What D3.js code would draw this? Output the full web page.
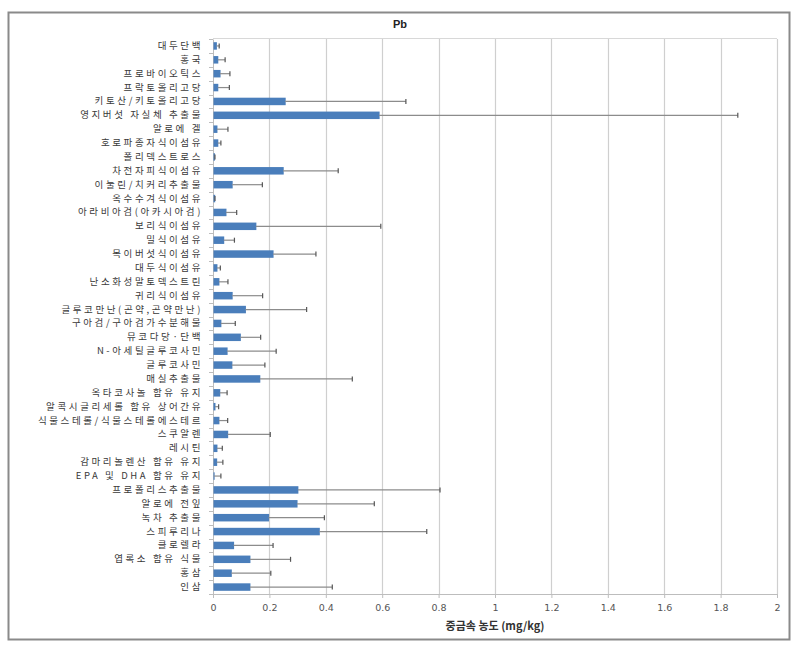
<!DOCTYPE html>
<html><head><meta charset="utf-8">
<script src="https://cdn.jsdelivr.net/npm/d3@7"></script>
<style>body{margin:0;background:#fff;} svg{display:block;}</style>
</head><body>
<svg id="c" width="796" height="650"></svg>
<script>
const categories = ["대두단백","홍국","프로바이오틱스","프락토올리고당","키토산/키토올리고당","영지버섯 자실체 추출물","알로에 겔","호로파종자식이섬유","폴리덱스트로스","차전자피식이섬유","이눌린/치커리추출물","옥수수겨식이섬유","아라비아검(아카시아검)","보리식이섬유","밀식이섬유","목이버섯식이섬유","대두식이섬유","난소화성말토덱스트린","귀리식이섬유","글루코만난(곤약,곤약만난)","구아검/구아검가수분해물","뮤코다당·단백","N-아세틸글루코사민","글루코사민","매실추출물","옥타코사놀 함유 유지","알콕시글리세롤 함유 상어간유","식물스테롤/식물스테롤에스테르","스쿠알렌","레시틴","감마리놀렌산 함유 유지","EPA 및 DHA 함유 유지","프로폴리스추출물","알로에 전잎","녹차 추출물","스피루리나","클로렐라","엽록소 함유 식물","홍삼","인삼"];
const means = [0.012,0.017,0.025,0.017,0.256,0.589,0.014,0.017,0.005,0.249,0.068,0.006,0.046,0.152,0.038,0.213,0.014,0.021,0.068,0.115,0.028,0.097,0.050,0.067,0.166,0.024,0.007,0.021,0.052,0.014,0.013,0.004,0.301,0.298,0.197,0.377,0.073,0.131,0.065,0.131];
const errors = [0.010,0.026,0.035,0.041,0.428,1.272,0.039,0.011,0.002,0.195,0.107,0.001,0.038,0.443,0.038,0.152,0.012,0.032,0.108,0.217,0.051,0.072,0.174,0.117,0.328,0.026,0.013,0.031,0.151,0.019,0.022,0.024,0.504,0.274,0.198,0.381,0.140,0.144,0.140,0.292];
const xTicks = [0,0.2,0.4,0.6,0.8,1,1.2,1.4,1.6,1.8,2];
const title = "Pb";
const xTitle = "중금속 농도 (mg/kg)";

const data = categories.map((c,i)=>({c, m:means[i], e:errors[i]}));
const svg = d3.select("#c");
const L=213, R=777, T=39, B=594;
const x = d3.scaleLinear().domain([0,2]).range([L,R]);
const y = d3.scaleBand().domain(categories).range([T,B]).paddingInner(0.46).paddingOuter(0.23);

// outer border
svg.append("rect").attr("x",8.5).attr("y",12.5).attr("width",781).attr("height",627)
  .attr("fill","#fff").attr("stroke","#8a8a8a").attr("stroke-width",2);

svg.append("text").attr("x",400).attr("y",28).attr("text-anchor","middle")
  .attr("font-family","Liberation Sans, Arial, sans-serif").attr("font-weight","bold")
  .attr("font-size",11).attr("fill","#222").text(title);

// gridlines
svg.append("g").selectAll("line").data(xTicks.slice(1)).join("line")
  .attr("x1",d=>Math.round(x(d))+0.5).attr("x2",d=>Math.round(x(d))+0.5)
  .attr("y1",T).attr("y2",B).attr("stroke","#cfcfcf").attr("stroke-width",1.2);
svg.append("line").attr("x1",L).attr("x2",R).attr("y1",T-0.5).attr("y2",T-0.5)
  .attr("stroke","#d8d8d8").attr("stroke-width",1);

// x axis
const xa = svg.append("g").attr("transform",`translate(0,${B})`)
  .call(d3.axisBottom(x).tickValues(xTicks).tickSize(4).tickPadding(6).tickFormat(d3.format("~g")));
xa.select(".domain").attr("stroke","#bdbdbd");
xa.selectAll(".tick line").attr("stroke","#bdbdbd");
xa.selectAll("text").attr("font-family","DejaVu Sans, sans-serif").attr("font-size",9.5).attr("fill","#555");

// y axis
const ya = svg.append("g").attr("transform",`translate(${L},0)`)
  .call(d3.axisLeft(y).tickSize(0).tickPadding(10));
ya.select(".domain").attr("stroke","#bdbdbd");
ya.selectAll("text").attr("font-family","Noto Sans CJK KR, sans-serif").attr("font-size",9.5)
  .attr("letter-spacing","2.6px").attr("fill","#3a3a3a");
// category boundary ticks
const step = y.step();
svg.append("g").selectAll("line").data(d3.range(categories.length+1)).join("line")
  .attr("x1",L-4).attr("x2",L)
  .attr("y1",i=>Math.round(T+i*step)+0.5).attr("y2",i=>Math.round(T+i*step)+0.5)
  .attr("stroke","#bdbdbd");

// bars
svg.append("g").selectAll("rect").data(data).join("rect")
  .attr("x",x(0)+0.5).attr("y",d=>y(d.c)).attr("width",d=>x(d.m)-x(0))
  .attr("height",y.bandwidth()).attr("fill","#4a7ebb");

// error bars
const eg = svg.append("g");
eg.selectAll("line.eb").data(data).join("line").attr("class","eb")
  .attr("x1",d=>x(d.m)).attr("x2",d=>x(d.m+d.e))
  .attr("y1",d=>y(d.c)+y.bandwidth()/2).attr("y2",d=>y(d.c)+y.bandwidth()/2)
  .attr("stroke","#8c8c8c").attr("stroke-width",1.2);
eg.selectAll("line.cap").data(data).join("line").attr("class","cap")
  .attr("x1",d=>x(d.m+d.e)).attr("x2",d=>x(d.m+d.e))
  .attr("y1",d=>y(d.c)+y.bandwidth()/2-2.5).attr("y2",d=>y(d.c)+y.bandwidth()/2+2.5)
  .attr("stroke","#555").attr("stroke-width",1.2);

svg.append("text").attr("x",495).attr("y",630).attr("text-anchor","middle")
  .attr("font-family","Noto Sans CJK KR, sans-serif").attr("font-weight","bold")
  .attr("font-size",11).attr("fill","#333").text(xTitle);
</script>
</body></html>
